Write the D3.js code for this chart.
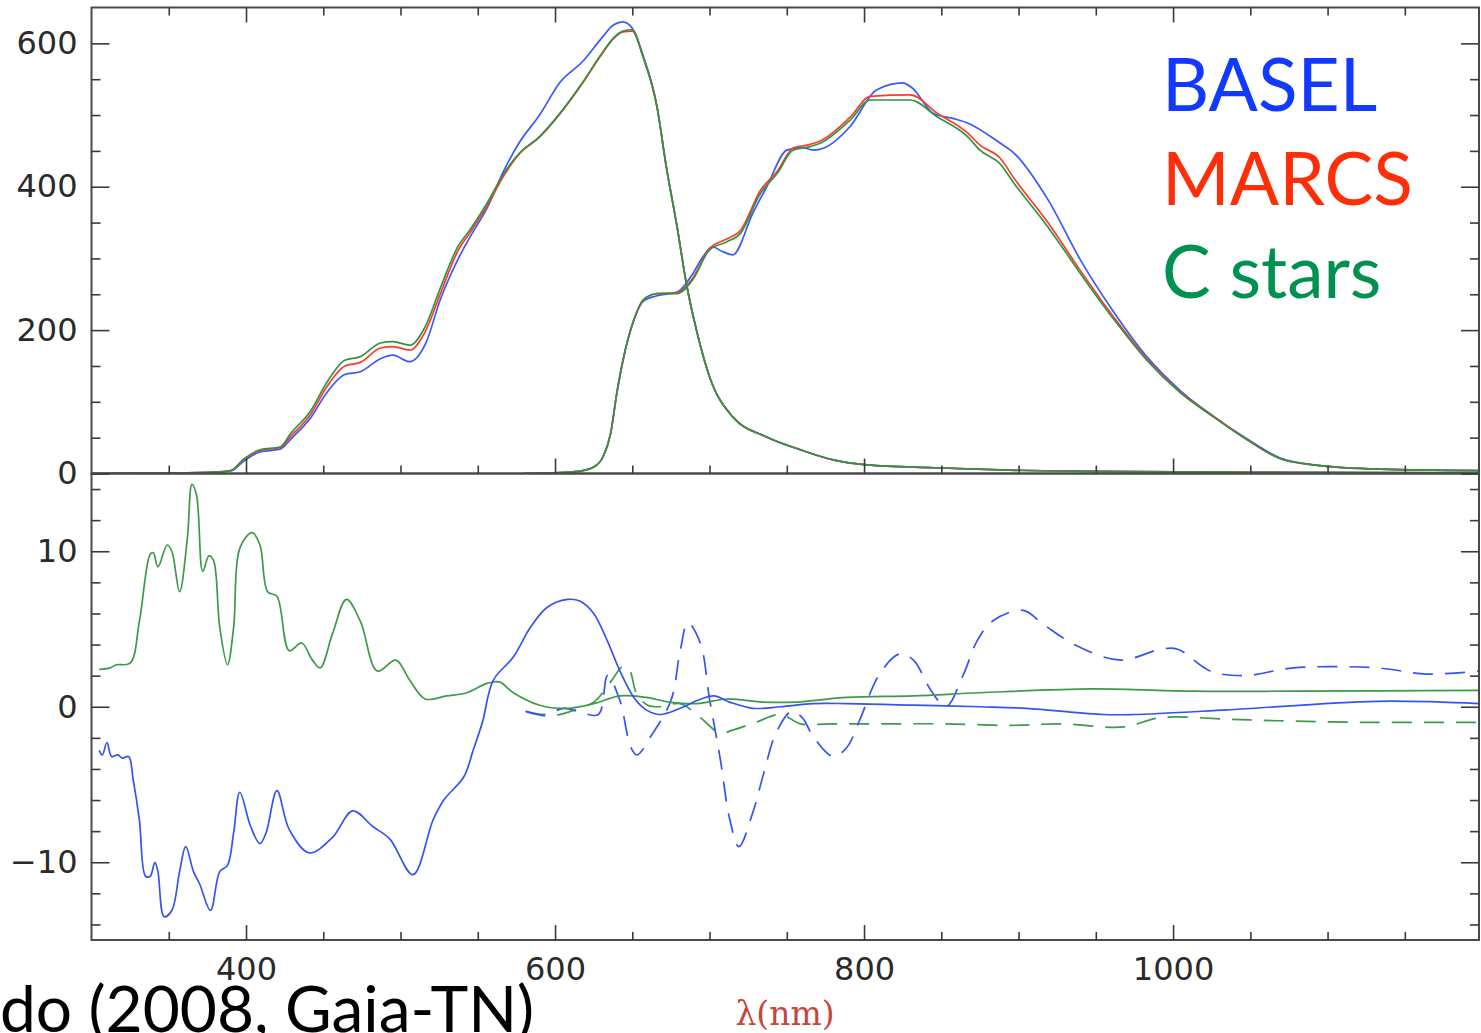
<!DOCTYPE html>
<html>
<head>
<meta charset="utf-8">
<script src="https://cdn.jsdelivr.net/npm/d3@7"></script>
<style>
body { margin: 0; background: #fff; }
</style>
</head>
<body>
<svg id="chart" width="1481" height="1033"></svg>
<script>
///////////////////////////////////////////
// Donnees (nm -> comptes / residus en %)

// BP : grille commune aux trois SED
var bpWl = [300, 340, 380, 390, 399, 409, 422, 429, 442, 452, 464, 474, 487, 495, 506, 516,
    526, 537, 545, 556, 567, 577, 590, 603, 618, 630, 638, 644, 650, 657, 666, 672,
    679, 685, 692, 700, 715, 737, 759, 780, 802, 845, 888, 950, 1050, 1200];
var bpCstars = [0, 0.5, 2, 4, 21, 33, 37, 56, 88, 126, 158, 163, 182, 184, 179, 205,
    260, 316, 340, 377, 419, 447, 470, 502, 546, 585, 608, 617, 619, 581, 511, 428,
    344, 265, 196, 135, 79, 51, 33, 19, 12, 8, 5, 3, 1.5, 1];
var bpMarcs = [0, 0.5, 2, 4, 20, 32, 36, 52, 83, 120, 150, 155, 175, 177, 172, 198,
    252, 310, 336, 373, 416, 446, 469, 501, 545, 584, 607, 616, 617, 581, 511, 428,
    344, 265, 196, 135, 79, 51, 33, 19, 12, 8, 5, 3, 1.5, 1];
var bpBasel = [0, 0.5, 2, 3.5, 18, 30, 34, 48, 78, 112, 138, 142, 160, 165, 156, 180,
    244, 298, 330, 370, 423, 462, 500, 545, 575, 607, 626, 630, 621, 583, 512, 428,
    344, 265, 196, 135, 79, 51, 33, 19, 12, 8, 5, 3, 1.5, 1];

// RP
var rpWl = [580, 600, 615, 625, 631, 636, 640, 644, 651, 657, 666, 679, 689, 700, 711, 720,
    733, 744, 754, 765, 772, 791, 804, 830, 847, 867, 875, 888, 897, 919, 940, 962,
    983, 1005, 1026, 1048, 1069, 1091, 1134, 1200];
var rpCstars = [0, 1, 3, 9, 23, 56, 112, 158, 214, 242, 251, 251, 270, 312, 323, 335,
    391, 419, 451, 456, 461, 493, 521, 521, 498, 470, 451, 432, 405, 344, 279, 214,
    158, 112, 79, 47, 21, 12, 6, 4];
var rpMarcs = [0, 1, 3, 9, 23, 56, 112, 158, 214, 242, 251, 252, 272, 314, 327, 339,
    395, 422, 454, 459, 464, 497, 526, 528, 503, 475, 458, 440, 412, 350, 283, 217,
    160, 113, 80, 47, 21, 12, 6, 4];
var rpBaselWl = [580, 600, 615, 625, 631, 636, 640, 644, 651, 657, 666, 679, 689, 695, 702, 708,
    715, 728, 737, 750, 760, 767, 774, 791, 808, 825, 831, 845, 858, 867, 888, 897,
    919, 940, 962, 983, 1005, 1026, 1048, 1069, 1091, 1134, 1200];
var rpBasel = [0, 1, 3, 9, 23, 56, 112, 158, 214, 240, 248, 253, 278, 300, 316, 310,
    305, 363, 400, 451, 455, 451, 454, 484, 535, 545, 538, 502, 495, 489, 461, 447,
    382, 298, 224, 163, 115, 80, 48, 22, 12, 6, 4];

// residus (panneau du bas)
var resBpCstarsWl = [305, 312, 316, 325, 331, 338, 340, 343, 349, 352, 357, 362, 365, 368, 372, 376,
    379, 383, 388, 392, 396, 404, 409, 414, 420, 428, 436, 443, 448, 456, 465, 474,
    485, 497, 506, 516, 530, 543, 556, 564, 573, 590, 609, 625, 642, 659, 674, 692,
    711, 735, 756, 789, 832, 875, 948, 1013, 1078, 1198];
var resBpCstars = [2.4, 2.5, 2.7, 2.8, 5.5, 9.8, 9.9, 9.0, 10.4, 10.0, 7.4, 10.8, 14.3, 13.6, 8.7, 9.7,
    9.4, 5.1, 2.7, 5.1, 10.2, 11.2, 10.4, 7.4, 7.1, 3.6, 4.1, 3.0, 2.5, 4.7, 6.9, 5.5,
    2.3, 3.0, 1.7, 0.5, 0.7, 0.9, 1.5, 1.6, 0.9, 0.1, -0.1, 0.2, 0.7, 0.6, 0.3, 0.2,
    0.5, 0.3, 0.3, 0.6, 0.7, 0.9, 1.15, 1.0, 1.0, 1.05];

var resBpBaselWl = [305, 307, 310, 313, 317, 320, 324, 327, 331, 335, 338, 341, 343, 347, 352, 357,
    361, 366, 370, 377, 383, 388, 392, 396, 403, 409, 413, 420, 428, 441, 456, 469,
    482, 493, 508, 521, 528, 541, 547, 553, 560, 573, 584, 595, 608, 616, 625, 634,
    642, 651, 659, 668, 681, 692, 703, 713, 728, 746, 767, 789, 832, 875, 905, 955,
    974, 1035, 1132, 1198];
var resBpBasel = [-2.8, -3.1, -2.3, -3.2, -3.1, -3.3, -3.2, -4.7, -7.3, -10.9, -10.9, -10.0, -10.6, -13.5, -13.1, -10.6,
    -9.0, -10.6, -11.4, -13.1, -10.6, -10.2, -8.1, -5.5, -7.7, -8.8, -8.1, -5.4, -7.9, -9.4, -8.4, -6.7,
    -7.7, -8.5, -10.8, -7.3, -6.0, -4.5, -2.8, -1.0, 1.7, 3.2, 5.1, 6.4, 6.9, 6.8, 6.0, 4.2,
    2.3, 0.6, -0.2, -0.5, -0.1, 0.4, 0.7, 0.3, -0.1, 0.0, 0.2, 0.2, 0.1, 0.0, -0.1, -0.5,
    -0.5, -0.2, 0.35, 0.2];

var resRpBaselWl = [581, 593, 606, 615, 628, 634, 642, 649, 653, 662, 675, 681, 686, 694, 700, 707,
    713, 719, 728, 735, 743, 753, 760, 767, 780, 789, 797, 810, 823, 832, 843, 853,
    864, 873, 883, 903, 916, 938, 966, 992, 1003, 1024, 1046, 1078, 1132, 1164, 1198];
var resRpBasel = [-0.3, -0.5, -0.1, -0.3, -0.5, 2.0, 0.4, -2.6, -3.1, -1.9, 0.4, 3.6, 5.4, 4.1, 0.5, -3.4,
    -7.2, -9.0, -6.8, -4.3, -1.7, -0.3, -0.7, -1.9, -3.2, -2.6, -0.9, 2.1, 3.4, 3.0, 1.1, 0.0,
    2.0, 4.2, 5.5, 6.2, 5.3, 3.9, 3.0, 3.7, 3.7, 2.3, 2.0, 2.5, 2.5, 2.1, 2.3];

var resRpCstarsWl = [581, 595, 610, 625, 636, 644, 648, 653, 660, 668, 681, 694, 707, 715, 730, 746,
    759, 778, 810, 853, 894, 927, 968, 992, 1035, 1067, 1121, 1198];
var resRpCstars = [-0.3, -0.6, -0.3, 0.3, 1.6, 2.6, 2.4, 0.8, 0.1, 0.0, 0.2, -0.7, -1.7, -1.5, -1.0, -0.5,
    -1.1, -1.1, -1.1, -1.1, -1.2, -1.1, -1.3, -0.7, -0.8, -0.9, -1.0, -1.0];

// axes
var xMajor = [400, 600, 800, 1000];
var topMajor = [0, 200, 400, 600];
var botMajor = [-10, 0, 10];
var legendNames = ["BASEL", "MARCS", "C stars"];

///////////////////////////////////////////

let svg = d3.select("#chart");
let x0 = 91.5, x1 = 1479, yT0 = 7.5, yMid = 473.5, yB1 = 940;

let x = d3.scaleLinear().domain([300, 1198]).range([x0, x1]);
let yTop = d3.scaleLinear().domain([0, 650]).range([yMid, yT0]);
let yBot = d3.scaleLinear().domain([-15, 15]).range([yB1, yMid]);

let cBlue = "#3a58ff", cRed = "#ff3b26", cGreen = "#2f9444";

svg.append("rect").attr("width", 1481).attr("height", 1033).attr("fill", "#fff");

let defs = svg.append("defs");
defs.append("clipPath").attr("id", "clipTop").append("rect")
    .attr("x", x0).attr("y", yT0).attr("width", x1 - x0).attr("height", yMid - yT0);
defs.append("clipPath").attr("id", "clipBot").append("rect")
    .attr("x", x0).attr("y", yMid).attr("width", x1 - x0).attr("height", yB1 - yMid);

function zip(wl, vals){
    return wl.map((w, i) => ({wl: w, v: vals[i]}));
}

function drawCurve(clip, yScale, wl, vals, color, dash, curve){
    let line = d3.line()
        .x(d => x(d.wl))
        .y(d => yScale(d.v))
        .curve(curve);
    svg.append("path")
        .datum(zip(wl, vals))
        .attr("clip-path", "url(#" + clip + ")")
        .attr("d", line)
        .attr("fill", "none")
        .attr("stroke", color)
        .attr("stroke-width", 1.7)
        .attr("stroke-dasharray", dash)
        .attr("stroke-linejoin", "round");
}

// panneau du haut
let smooth = d3.curveMonotoneX;
drawCurve("clipTop", yTop, bpWl, bpBasel, cBlue, null, smooth);
drawCurve("clipTop", yTop, rpBaselWl, rpBasel, cBlue, null, smooth);
drawCurve("clipTop", yTop, bpWl, bpMarcs, cRed, null, smooth);
drawCurve("clipTop", yTop, rpWl, rpMarcs, cRed, null, smooth);
drawCurve("clipTop", yTop, bpWl, bpCstars, cGreen, null, smooth);
drawCurve("clipTop", yTop, rpWl, rpCstars, cGreen, null, smooth);

// panneau du bas
let cr = d3.curveCatmullRom.alpha(0.5);
drawCurve("clipBot", yBot, resRpCstarsWl, resRpCstars, "#3c9a48", "20,12", cr);
drawCurve("clipBot", yBot, resRpBaselWl, resRpBasel, "#3553f2", "20,12", cr);
drawCurve("clipBot", yBot, resBpCstarsWl, resBpCstars, "#3c9a48", null, cr);
drawCurve("clipBot", yBot, resBpBaselWl, resBpBasel, "#3553f2", null, cr);

// cadres
[[yT0, yMid], [yMid, yB1]].forEach(p => {
    svg.append("rect")
        .attr("x", x0).attr("y", p[0])
        .attr("width", x1 - x0).attr("height", p[1] - p[0])
        .attr("fill", "none")
        .attr("stroke", "#4a4a4a")
        .attr("stroke-width", 2);
});

function drawAxis(axis, tx, ty){
    let g = svg.append("g")
        .attr("transform", "translate(" + tx + "," + ty + ")")
        .call(axis);
    g.select(".domain").remove();
    g.selectAll("line").attr("stroke", "#3a3a3a").attr("stroke-width", 1.6);
    g.attr("font-family", "'DejaVu Sans', sans-serif")
        .attr("font-size", 32)
        .selectAll("text").attr("fill", "#2a2a2a");
    return g;
}

let topMinor = d3.range(50, 650, 50).filter(v => v % 200 !== 0);
let botMinor = d3.range(-14, 15, 2).filter(v => v % 10 !== 0);
let xMinor = d3.range(350, 1200, 50).filter(v => v % 200 !== 0);

// axes verticaux
drawAxis(d3.axisLeft(yTop).tickValues(topMajor).tickSize(-18).tickPadding(14), x0, 0);
drawAxis(d3.axisLeft(yTop).tickValues(topMinor).tickSize(-9).tickFormat(""), x0, 0);
drawAxis(d3.axisRight(yTop).tickValues(topMajor).tickSize(-18).tickFormat(""), x1, 0);
drawAxis(d3.axisRight(yTop).tickValues(topMinor).tickSize(-9).tickFormat(""), x1, 0);

drawAxis(d3.axisLeft(yBot).tickValues(botMajor).tickSize(-18).tickPadding(14), x0, 0);
drawAxis(d3.axisLeft(yBot).tickValues(botMinor).tickSize(-9).tickFormat(""), x0, 0);
drawAxis(d3.axisRight(yBot).tickValues(botMajor).tickSize(-18).tickFormat(""), x1, 0);
drawAxis(d3.axisRight(yBot).tickValues(botMinor).tickSize(-9).tickFormat(""), x1, 0);

// axes horizontaux
drawAxis(d3.axisTop(x).tickValues(xMajor).tickSize(-15).tickFormat(""), 0, yT0);
drawAxis(d3.axisTop(x).tickValues(xMinor).tickSize(-8).tickFormat(""), 0, yT0);
drawAxis(d3.axisBottom(x).tickValues(xMajor).tickSize(-15).tickFormat(""), 0, yMid);
drawAxis(d3.axisBottom(x).tickValues(xMinor).tickSize(-8).tickFormat(""), 0, yMid);
drawAxis(d3.axisBottom(x).tickValues(xMajor).tickSize(-15).tickPadding(17).tickFormat(d3.format("d")), 0, yB1);
drawAxis(d3.axisBottom(x).tickValues(xMinor).tickSize(-8).tickFormat(""), 0, yB1);

// titre de l'axe
svg.append("text")
    .attr("x", 785).attr("y", 1025)
    .attr("text-anchor", "middle")
    .attr("font-family", "'DejaVu Serif', serif")
    .attr("font-size", 33)
    .attr("fill", "#c4463c")
    .text("λ(nm)");

// legende
let legendColors = ["#1239ff", "#ff2e0a", "#009150"];
svg.selectAll(".leg")
    .data(legendNames)
    .enter().append("text")
    .attr("class", "leg")
    .attr("x", 1162)
    .attr("y", (d, i) => 111 + i * 93.5)
    .attr("font-family", "Lato, sans-serif")
    .attr("font-size", 73)
    .attr("fill", (d, i) => legendColors[i])
    .text(d => d);

// reference coupee en bas a gauche
svg.append("text")
    .attr("x", 0).attr("y", 1032)
    .attr("font-family", "Lato, sans-serif")
    .attr("font-size", 64)
    .attr("fill", "#000")
    .text("do (2008, Gaia-TN)");
</script>
</body>
</html>
